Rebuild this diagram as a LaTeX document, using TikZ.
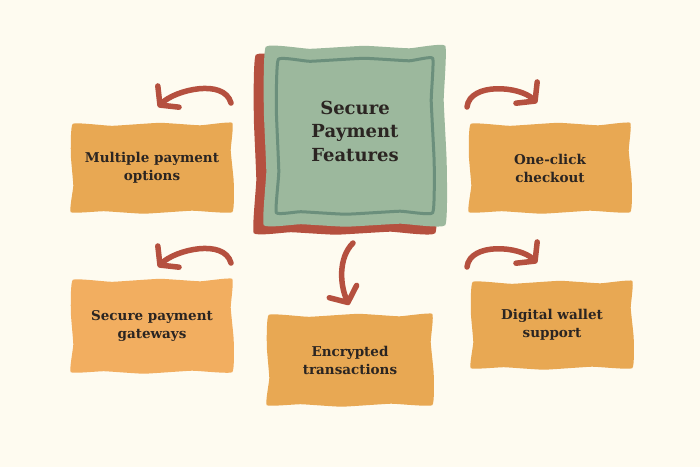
\documentclass[tikz,border=0pt]{standalone}
\usepackage{fontspec}
\setmainfont{DejaVu Serif}
\usetikzlibrary{arrows.meta,calc,backgrounds}

\definecolor{paper}{HTML}{FEFBF0}
\definecolor{sage}{HTML}{9CB89D}
\definecolor{sagedark}{HTML}{6B8F7C}
\definecolor{brick}{HTML}{B5503F}
\definecolor{amber}{HTML}{E8A853}
\definecolor{amberlight}{HTML}{F2AE60}
\definecolor{ink}{HTML}{2B2522}

\newcommand*\cardwidth{160pt}
\newcommand*\cardheight{88pt}
% A hand-cut outline round node #1, pulled in by #2.
\newcommand*\wobble[2]{plot[smooth cycle, tension=.22] coordinates {
    ([shift={(#2+1,#2)}]#1.north west)
    ($(#1.north west)!.25!(#1.north east)+(0,#2+2)$)
    ($(#1.north west)!.55!(#1.north east)+(0,#2-1)$)
    ($(#1.north west)!.8!(#1.north east)+(0,#2+1.5)$)
    ([shift={(-#2,#2-1)}]#1.north east)
    ($(#1.north east)!.3!(#1.south east)+(-#2-1.5,0)$)
    ($(#1.north east)!.65!(#1.south east)+(-#2+1.5,0)$)
    ([shift={(-#2,-#2)}]#1.south east)
    ($(#1.south east)!.25!(#1.south west)+(0,-#2-1.5)$)
    ($(#1.south east)!.55!(#1.south west)+(0,-#2+1.5)$)
    ($(#1.south east)!.8!(#1.south west)+(0,-#2-1)$)
    ([shift={(#2-1,-#2)}]#1.south west)
    ($(#1.south west)!.3!(#1.north west)+(#2+1.5,0)$)
    ($(#1.south west)!.65!(#1.north west)+(#2-1,0)$)
}}
\tikzset{
    card/.style={
        minimum width=\cardwidth,
        minimum height=\cardheight,
        inner sep=0pt,
        align=center,
        text=ink,
        font=\bfseries\fontsize{13.5}{18}\selectfont
    },
    hubbox/.style={minimum width=180pt, minimum height=178pt},
    frame/.style={draw=sagedark, line width=3pt, line join=round},
    swoop/.style={
        draw=brick,
        line width=5.5pt,
        line cap=round,
        -{Straight Barb[length=12pt, width=30pt, round]}
    }
}

\begin{document}
\begin{tikzpicture}[x=1pt,y=-1pt]

    % The centre square and its title.
    \node[hubbox] (hub) at (355,136) {};
    \node[align=center, text=ink, font=\bfseries\fontsize{18}{23.5}\selectfont] (title) at (355,131) {Secure\\Payment\\Features};

    % The five feature cards.
    \node[card] (multi) at (152,168) {Multiple payment\\options};
    \node[card] (oneclick) at (550,168) {One-click\\checkout};
    \node[card, minimum height=92pt] (gateways) at (152,326) {Secure payment\\gateways};
    \node[card, minimum width=164pt, minimum height=90pt] (encrypt) at (350,360) {Encrypted\\transactions};
    \node[card, minimum height=86pt] (wallet) at (552,325) {Digital wallet\\support};

    % Paper and cut-out shapes go behind the text.
    \begin{pgfonlayer}{background}
        \fill[paper] (0,0) rectangle (700,467);
        \begin{scope}[transform canvas={shift={(-10pt,-8pt)}}]
            \fill[brick] \wobble{hub}{0};
        \end{scope}
        \fill[sage] \wobble{hub}{0};
        \draw[frame] \wobble{hub}{12.5};
        \fill[amber] \wobble{multi}{0};
        \fill[amber] \wobble{oneclick}{0};
        \fill[amberlight] \wobble{gateways}{0};
        \fill[amber] \wobble{encrypt}{0};
        \fill[amber] \wobble{wallet}{0};
    \end{pgfonlayer}

    % Free ends of the arrows.
    \coordinate (s1) at (231,103);
    \coordinate (e1) at (158,107);
    \coordinate (s2) at (467,107);
    \coordinate (e2) at (537,103);
    \coordinate (s3) at (353,243);
    \coordinate (e3) at (349,305);
    \coordinate (s4) at (231,263);
    \coordinate (e4) at (158,267);
    \coordinate (s5) at (467,267);
    \coordinate (e5) at (537,263);

    % Curly arrows.
    \draw[swoop] (s1) .. controls ([shift={(-7,-25)}]s1) and ([shift={(17,-17)}]e1) .. (e1);
    \draw[swoop] (s2) .. controls ([shift={(3,-25)}]s2) and ([shift={(-17,-17)}]e2) .. (e2);
    \draw[swoop] (s3) .. controls ([shift={(-15,15)}]s3) and ([shift={(-9,-20)}]e3) .. (e3);
    \draw[swoop] (s4) .. controls ([shift={(-7,-25)}]s4) and ([shift={(17,-17)}]e4) .. (e4);
    \draw[swoop] (s5) .. controls ([shift={(3,-25)}]s5) and ([shift={(-17,-17)}]e5) .. (e5);

\end{tikzpicture}
\end{document}
